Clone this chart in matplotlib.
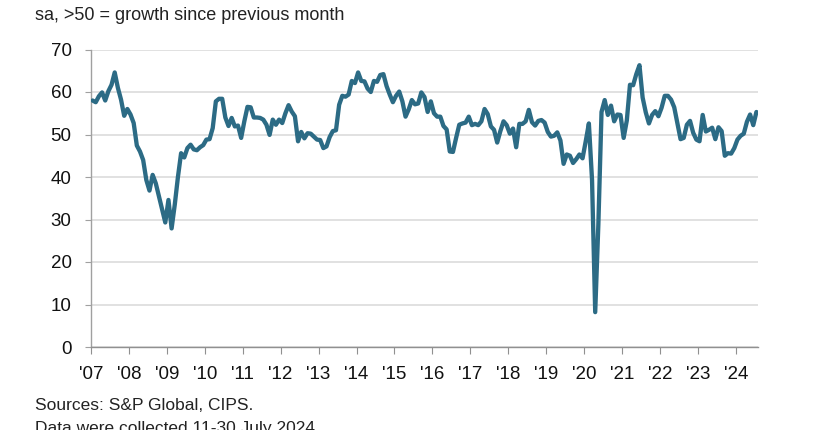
import numpy as np
import matplotlib
matplotlib.use("Agg")
import matplotlib.pyplot as plt

plt.rcParams['font.family'] = ['Liberation Sans', 'DejaVu Sans']

# Monthly index values (sa, >50 = growth), Jan 2007 - Jul 2024
y2007 = [58.0, 57.6, 59.0, 59.9, 58.0, 60.2, 61.7, 64.6, 61.0, 58.2, 54.4, 56.0]
y2008 = [54.7, 52.7, 47.4, 46.0, 44.0, 39.3, 36.8, 40.5, 38.5, 35.4, 32.3, 29.3]
y2009 = [34.6, 27.9, 33.5, 40.0, 45.6, 44.6, 46.8, 47.6, 46.5, 46.3, 47.0, 47.5]
y2010 = [48.8, 48.9, 51.5, 57.8, 58.4, 58.4, 54.0, 52.0, 53.9, 51.9, 52.1, 49.2]
y2011 = [53.1, 56.5, 56.4, 54.0, 54.0, 53.9, 53.5, 52.3, 49.9, 53.5, 52.3, 53.5]
y2012 = [52.7, 55.0, 56.9, 55.4, 54.3, 48.4, 50.6, 49.1, 50.3, 50.2, 49.5, 48.8]
y2013 = [48.7, 46.8, 47.2, 49.4, 50.8, 51.0, 57.0, 59.1, 58.9, 59.4, 62.6, 62.1]
y2014 = [64.6, 62.6, 62.5, 60.8, 60.0, 62.6, 62.4, 64.0, 64.2, 61.4, 59.4, 57.6]
y2015 = [59.1, 60.1, 57.8, 54.2, 55.9, 58.1, 57.1, 57.3, 59.9, 58.8, 55.3, 57.8]
y2016 = [55.0, 54.2, 54.2, 52.0, 51.2, 46.0, 45.9, 49.2, 52.3, 52.6, 52.8, 54.2]
y2017 = [52.2, 52.5, 52.2, 53.1, 56.0, 54.8, 51.9, 51.1, 48.1, 50.8, 53.1, 52.2]
y2018 = [50.2, 51.4, 47.0, 52.5, 52.5, 53.1, 55.8, 52.9, 52.1, 53.2, 53.4, 52.8]
y2019 = [50.6, 49.5, 49.7, 50.5, 48.6, 43.1, 45.3, 45.0, 43.3, 44.2, 45.3, 44.4]
y2020 = [48.4, 52.6, 39.3, 8.2, 28.9, 55.3, 58.1, 54.6, 56.8, 53.1, 54.7, 54.6]
y2021 = [49.2, 53.3, 61.7, 61.6, 64.2, 66.3, 58.7, 55.2, 52.6, 54.6, 55.5, 54.3]
y2022 = [56.3, 59.1, 59.1, 58.2, 56.4, 52.6, 48.9, 49.2, 52.3, 53.2, 50.4, 48.8]
y2023 = [48.4, 54.6, 50.7, 51.1, 51.6, 48.9, 51.7, 50.8, 45.0, 45.6, 45.5, 46.8]
y2024 = [48.8, 49.7, 50.2, 53.0, 54.7, 52.2, 55.3]

year_labels = ["'07", "'08", "'09", "'10", "'11", "'12", "'13", "'14", "'15",
               "'16", "'17", "'18", "'19", "'20", "'21", "'22", "'23", "'24"]
y_ticks = [0, 10, 20, 30, 40, 50, 60, 70]

series = np.array(y2007 + y2008 + y2009 + y2010 + y2011 + y2012 + y2013 + y2014 +
                  y2015 + y2016 + y2017 + y2018 + y2019 + y2020 + y2021 + y2022 +
                  y2023 + y2024)
n = len(series)
x = np.arange(n) + 0.5

fig = plt.figure(figsize=(8.4, 4.3), dpi=100)
ax = fig.add_axes([91/840, 1-347/430, (758-91)/840, (347-49.5)/430])

ax.plot(x, series, color='#2c6b85', lw=3.1, solid_joinstyle='round', solid_capstyle='round', zorder=3)

ax.set_xlim(0, n)
ax.set_ylim(0, 70)
ax.set_yticks(y_ticks)
ax.set_yticklabels([str(v) for v in y_ticks])
ax.set_xticks(np.arange(len(year_labels)) * 12)
ax.set_xticklabels(year_labels)

ax.grid(axis='y', color='#d9d9d9', lw=1.1, zorder=0)
ax.set_axisbelow(True)
for s in ['top', 'right']:
    ax.spines[s].set_visible(False)
ax.spines['left'].set_color('#a0a0a0')
ax.spines['bottom'].set_color('#909090')
ax.spines['left'].set_linewidth(1.0)
ax.spines['bottom'].set_linewidth(1.0)
ax.tick_params(axis='y', length=4, color='#a0a0a0', pad=10, labelsize=13.5, labelcolor='#111111')
ax.tick_params(axis='x', length=5, color='#909090', pad=9, labelsize=13.5, labelcolor='#111111')

fig.text(35/840, 1-15/430, 'sa, >50 = growth since previous month', fontsize=13,
         color='#222222', va='center', ha='left')
fig.text(35/840, 1-406/430, 'Sources: S&P Global, CIPS.', fontsize=12.5,
         color='#222222', va='center', ha='left')
fig.text(35/840, 1-429/430, 'Data were collected 11-30 July 2024.', fontsize=12.5,
         color='#222222', va='center', ha='left')

fig.savefig('out.png', dpi=100)
